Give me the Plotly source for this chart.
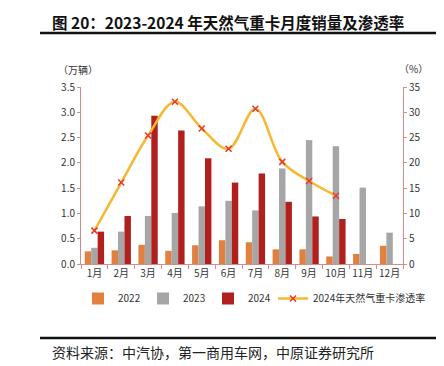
import plotly.graph_objects as go

months = ["1月", "2月", "3月", "4月", "5月", "6月", "7月", "8月", "9月", "10月", "11月", "12月"]
sales_2022 = [0.25, 0.27, 0.38, 0.26, 0.37, 0.47, 0.43, 0.29, 0.29, 0.15, 0.20, 0.36]
sales_2023 = [0.32, 0.64, 0.95, 1.01, 1.14, 1.25, 1.06, 1.89, 2.45, 2.33, 1.51, 0.62]
sales_2024 = [0.64, 0.95, 2.93, 2.64, 2.09, 1.61, 1.79, 1.23, 0.94, 0.89]
rate_2024 = [6.6, 16.1, 25.4, 32.1, 26.8, 22.8, 30.7, 20.2, 16.4, 13.5]

FONT = "Noto Sans CJK SC"
W, H = 444, 366
L, R, T, B = 73, 395, 79, 256

def px(x):
    return (x - L) / (R - L)

def py(y):
    return (B - y) / (B - T)

fig = go.Figure()
fig.add_trace(go.Bar(x=months, y=sales_2022, name="2022", marker_color="#E2803F", marker_line_width=0))
fig.add_trace(go.Bar(x=months, y=sales_2023, name="2023", marker_color="#A6A6A6", marker_line_width=0))
fig.add_trace(go.Bar(x=months[:len(sales_2024)], y=sales_2024, name="2024", marker_color="#B0211D", marker_line_width=0))
fig.add_trace(go.Scatter(
    x=months[:len(rate_2024)], y=rate_2024, name="2024年天然气重卡渗透率", yaxis="y2",
    legend="legend2",
    mode="lines+markers", line=dict(color="#F6B82E", width=2.5, shape="spline", smoothing=1.0),
    marker=dict(symbol="x-thin", size=6, line=dict(color="#E8372B", width=1.5), color="#E8372B"),
))

axis_col = "#D98A8A"
fig.update_layout(
    width=W, height=H,
    margin=dict(l=L, r=W - R, t=T, b=H - B, pad=0),
    paper_bgcolor="white", plot_bgcolor="white",
    font=dict(family=FONT, size=10, color="#333333"),
    barmode="group", bargap=0.28, bargroupgap=0,
    showlegend=True,
    legend=dict(orientation="h", x=px(70), y=py(276), xanchor="left", yanchor="top",
                font=dict(size=10, color="#333333"), itemwidth=30, tracegroupgap=0,
                traceorder="normal", entrywidth=20, entrywidthmode="pixels",
                bgcolor="rgba(0,0,0,0)"),
    legend2=dict(orientation="h", x=px(265), y=py(276), xanchor="left", yanchor="top",
                 font=dict(size=10, color="#333333"), itemwidth=30,
                 bgcolor="rgba(0,0,0,0)"),
    xaxis=dict(type="category", showline=True, linecolor=axis_col, linewidth=1,
               ticks="outside", tickcolor=axis_col, ticklen=4, tickson="boundaries",
               tickangle=0, showgrid=False, tickfont=dict(size=10, color="#333333"),
               range=[-0.5, 11.5]),
    yaxis=dict(range=[0, 3.5], dtick=0.5, tickformat=".1f", showline=True, linecolor=axis_col,
               ticks="outside", tickcolor=axis_col, ticklen=3, showgrid=False, zeroline=False,
               tickfont=dict(size=10, color="#333333")),
    yaxis2=dict(range=[0, 35], dtick=5, overlaying="y", side="right", showline=True,
                linecolor=axis_col, ticks="outside", tickcolor=axis_col, ticklen=3,
                showgrid=False, zeroline=False, tickfont=dict(size=10, color="#333333")),
)

fig.add_annotation(text="<b>图 20：2023-2024 年天然气重卡月度销量及渗透率</b>", xref="paper", yref="paper",
                   x=px(42), y=py(14), xanchor="left", yanchor="middle", showarrow=False,
                   font=dict(family=FONT, size=15.5, color="#111111"))
fig.add_annotation(text="（万辆）", xref="paper", yref="paper", x=px(70), y=py(61),
                   xanchor="center", yanchor="middle", showarrow=False,
                   font=dict(family=FONT, size=10, color="#333333"))
fig.add_annotation(text="（%）", xref="paper", yref="paper", x=px(406), y=py(60),
                   xanchor="center", yanchor="middle", showarrow=False,
                   font=dict(family=FONT, size=10, color="#333333"))
fig.add_annotation(text="资料来源：中汽协，第一商用车网，中原证券研究所", xref="paper", yref="paper",
                   x=px(42), y=py(344), xanchor="left", yanchor="middle", showarrow=False,
                   font=dict(family=FONT, size=14, color="#222222"))

fig.add_shape(type="line", xref="paper", yref="paper", x0=px(32), x1=px(435), y0=py(25), y1=py(25),
              line=dict(color="#111111", width=2.5))
fig.add_shape(type="line", xref="paper", yref="paper", x0=px(32), x1=px(435), y0=py(330), y1=py(330),
              line=dict(color="#111111", width=2.5))

fig.write_html("out.html")
